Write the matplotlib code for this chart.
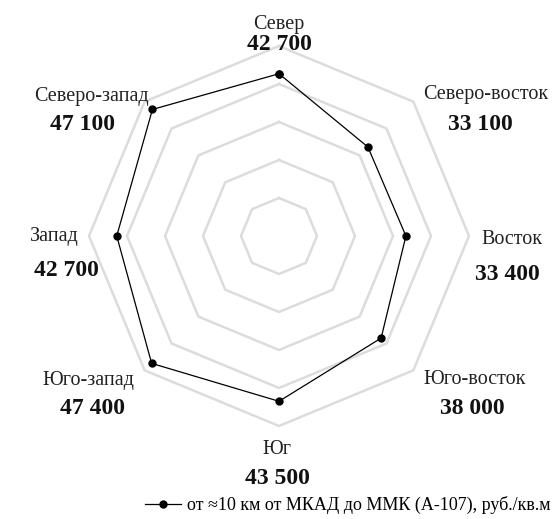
import matplotlib
matplotlib.use("Agg")
import matplotlib.pyplot as plt
import numpy as np

plt.rcParams['font.family'] = ['Liberation Serif', 'DejaVu Serif']

# data
directions = ["Север", "Северо-восток", "Восток", "Юго-восток",
              "Юг", "Юго-запад", "Запад", "Северо-запад"]
prices = [42700, 33100, 33400, 38000, 43500, 47400, 42700, 47100]
rings = [10000, 20000, 30000, 40000, 50000]
series_name = "от ≈10 км от МКАД до ММК (А-107), руб./кв.м"

# label positions in pixels (name centre, value centre)
name_pos = [(279, 24), (486, 95), (512, 239), (475, 380),
            (277, 450), (88, 380), (54, 237), (91, 96)]
value_pos = [(279, 44), (480, 124), (507, 274), (472, 409),
             (277, 478), (92, 409), (66, 271), (83, 124)]

W, H = 560, 519
fig = plt.figure(figsize=(W / 100, H / 100), dpi=100)

cx, cy, R = 279, 236, 190
ax = fig.add_axes([(cx - R) / W, (H - cy - R) / H, 2 * R / W, 2 * R / H],
                  projection='polar')
ax.set_theta_zero_location('N')
ax.set_theta_direction(-1)
ax.set_ylim(0, rings[-1])

n = len(directions)
angles = np.arange(n) * 2 * np.pi / n
closed = np.append(angles, angles[0])

# octagon grid
for r in rings:
    ax.plot(closed, [r] * (n + 1), color='#dcdcdc', lw=1.8, zorder=1, clip_on=False)

vals = prices + prices[:1]
ax.plot(closed, vals, color='black', lw=0.9, marker='o', markersize=5,
        zorder=3, clip_on=False, label=series_name)

ax.grid(False)
ax.spines['polar'].set_visible(False)
ax.set_xticks([])
ax.set_yticks([])
ax.patch.set_alpha(0)

for name, v, (nx, ny), (vx, vy) in zip(directions, prices, name_pos, value_pos):
    fig.text(nx / W, 1 - ny / H, name, ha='center', va='center',
             fontsize=14.5, color='#222222')
    fig.text(vx / W, 1 - vy / H, f"{v:,}".replace(",", " "), ha='center',
             va='center', fontsize=17, fontweight='bold', color='#111111')

fig.legend(loc='center left', bbox_to_anchor=(145 / W, 1 - 505 / H),
           frameon=False, fontsize=13, handlelength=2.0, handletextpad=0.3,
           borderaxespad=0, borderpad=0)

fig.savefig("out.png", dpi=100)
